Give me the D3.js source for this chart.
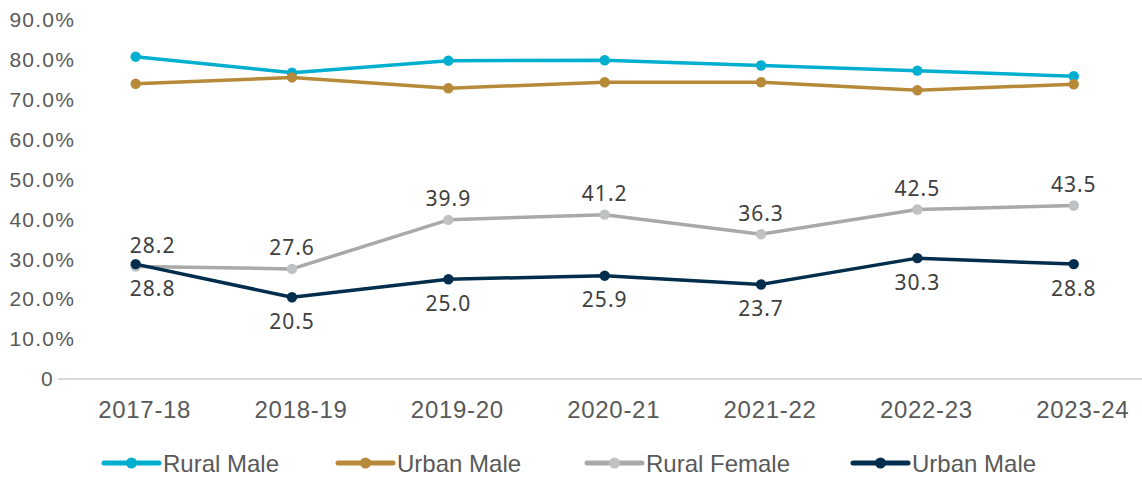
<!DOCTYPE html>
<html>
<head>
<meta charset="utf-8">
<script src="https://cdn.jsdelivr.net/npm/d3@7/dist/d3.min.js"></script>
<style>
  html, body { margin: 0; padding: 0; background: #ffffff; }
  svg { display: block; }
</style>
</head>
<body>
<svg id="chart" width="1142" height="477"></svg>
<script>
// Share of population by year (percent)
const years = ["2017-18", "2018-19", "2019-20", "2020-21", "2021-22", "2022-23", "2023-24"];
const ruralMale   = [80.8, 76.8, 79.8, 79.9, 78.6, 77.3, 75.9];
const urbanMale   = [74.0, 75.6, 72.9, 74.4, 74.4, 72.4, 73.9];
const ruralFemale = [28.2, 27.6, 39.9, 41.2, 36.3, 42.5, 43.5];
const urbanMale2  = [28.8, 20.5, 25.0, 25.9, 23.7, 30.3, 28.8];
const seriesNames = ["Rural Male", "Urban Male", "Rural Female", "Urban Male"];
const yTicks = [0, 10, 20, 30, 40, 50, 60, 70, 80, 90];

const series = [
  { name: seriesNames[0], values: ruralMale,   line: "#00AECF", dot: "#00AECF", labels: null },
  { name: seriesNames[1], values: urbanMale,   line: "#B78A3A", dot: "#B78A3A", labels: null },
  { name: seriesNames[2], values: ruralFemale, line: "#A9A9A9", dot: "#BFC1C3", labels: "above" },
  { name: seriesNames[3], values: urbanMale2,  line: "#032D4D", dot: "#032D4D", labels: "below" }
];

const svg = d3.select("#chart");

const x = d3.scaleBand().domain(years).range([57.5, 1151.9]).paddingInner(0).paddingOuter(0);
const y = d3.scaleLinear().domain([0, 90]).range([379, 20]);
const cx = d => x(d) + x.bandwidth() / 2;

// Y axis: labels only
const yAxis = d3.axisLeft(y)
  .tickValues(yTicks)
  .tickSize(0)
  .tickPadding(0)
  .tickFormat(d => d === 0 ? "0" : d3.format(".1f")(d) + "%");
const gy = svg.append("g").attr("transform", "translate(75,0)").call(yAxis);
gy.select(".domain").remove();
gy.selectAll("text")
  .attr("fill", "#595959")
  .style("font-family", "'Liberation Sans', Arial, sans-serif")
  .style("font-size", "21px")
  .style("letter-spacing", "1.2px");
gy.selectAll(".tick").filter(d => d === 0).select("text").attr("x", -21);

// X axis with baseline
const xAxis = d3.axisBottom(x).tickSize(0).tickPadding(22);
const gx = svg.append("g").attr("transform", `translate(0,${y(0)})`).call(xAxis);
gx.select(".domain").attr("stroke", "#D9D9D9").attr("stroke-width", 2)
  .attr("d", `M58,0H1150`);
gx.selectAll("text")
  .attr("dx", 9)
  .attr("fill", "#595959")
  .style("font-family", "'Liberation Sans', Arial, sans-serif")
  .style("font-size", "24px")
  .style("letter-spacing", "0.7px");

// Lines and markers
const line = d3.line().x((d, i) => cx(years[i])).y(d => y(d));

series.forEach(s => {
  const g = svg.append("g");
  g.append("path")
    .datum(s.values)
    .attr("d", line)
    .attr("fill", "none")
    .attr("stroke", s.line)
    .attr("stroke-width", 3.5)
    .attr("stroke-linejoin", "round");
  g.selectAll("circle")
    .data(s.values)
    .join("circle")
    .attr("cx", (d, i) => cx(years[i]))
    .attr("cy", d => y(d))
    .attr("r", 5.2)
    .attr("fill", s.dot);
});

// Data labels
series.filter(s => s.labels).forEach(s => {
  svg.append("g").selectAll("text")
    .data(s.values)
    .join("text")
    .attr("x", (d, i) => cx(years[i]) + (i === 0 ? 17 : 0))
    .attr("y", d => y(d) + (s.labels === "above" ? -21 : 24))
    .attr("dy", "0.36em")
    .attr("text-anchor", "middle")
    .attr("fill", "#404040")
    .style("font-family", "'Noto Sans', 'Open Sans', sans-serif")
    .style("font-size", "21px")
    .style("letter-spacing", "1px")
    .text(d => d3.format(".1f")(d));
});

// Legend
const legendX = [104, 338, 587, 853];
const legend = svg.append("g").attr("transform", "translate(0,463)");
series.forEach((s, i) => {
  const g = legend.append("g").attr("transform", `translate(${legendX[i]},0)`);
  g.append("line").attr("x1", 0).attr("x2", 55).attr("y1", 0).attr("y2", 0)
    .attr("stroke", s.line).attr("stroke-width", 5).attr("stroke-linecap", "round");
  g.append("circle").attr("cx", 27.5).attr("cy", 0).attr("r", 5.5).attr("fill", s.dot);
  g.append("text").attr("x", 59).attr("y", 0).attr("dy", "0.36em")
    .attr("fill", "#595959")
    .style("font-family", "'Liberation Sans', Arial, sans-serif")
    .style("font-size", "24px")
    .text(s.name);
});
</script>
</body>
</html>
